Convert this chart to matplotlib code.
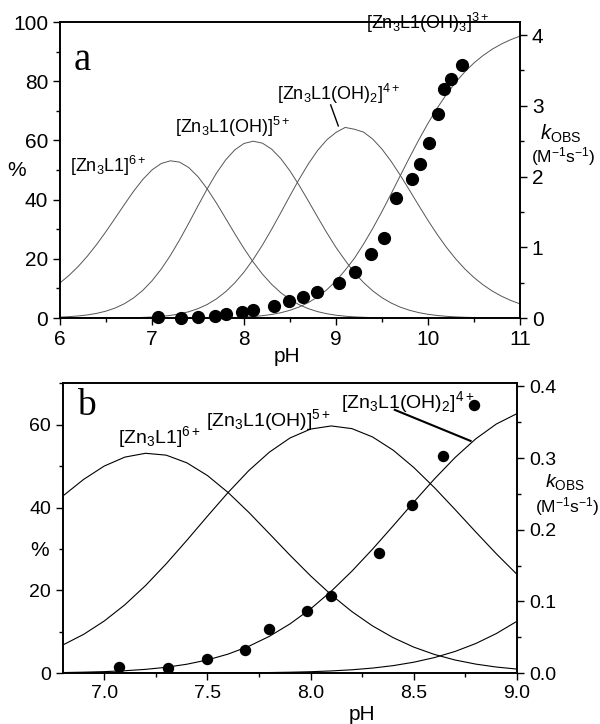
import matplotlib
matplotlib.use("Agg")
import matplotlib.pyplot as plt
import numpy as np
from matplotlib.ticker import MultipleLocator, FormatStrFormatter

plt.rcParams['font.family'] = ['Liberation Sans', 'DejaVu Sans']
plt.rcParams['mathtext.fontset'] = 'custom'
plt.rcParams['mathtext.rm'] = 'Liberation Sans'
plt.rcParams['mathtext.it'] = 'Liberation Sans:italic'
plt.rcParams['mathtext.bf'] = 'Liberation Sans:bold'

# species distribution, read every 0.1 pH unit from 6.0 to 11.0
ph_grid = np.linspace(6.0, 11.0, 51)

zn3l1 = [11.85, 14.45, 17.49, 20.98, 24.91, 29.21, 33.75, 38.36, 42.81, 46.80,
         50.03, 52.19, 53.11, 52.66, 50.81, 47.73, 43.63, 38.85, 33.68, 28.47,
         23.47, 18.89, 14.84, 11.38, 8.54, 6.25, 4.48, 3.14, 2.15, 1.44,
         0.95, 0.61, 0.38, 0.24, 0.14, 0.09, 0.05, 0.03, 0.02, 0.01,
         0.0, 0.0, 0.0, 0.0, 0.0, 0.0, 0.0, 0.0, 0.0, 0.0, 0.0]

zn3l1_oh = [0.30, 0.46, 0.70, 1.05, 1.57, 2.32, 3.37, 4.83, 6.79, 9.34,
            12.57, 16.50, 21.14, 26.39, 32.06, 37.91, 43.63, 48.91, 53.38, 56.81,
            58.97, 59.72, 59.07, 57.06, 53.86, 49.67, 44.80, 39.51, 34.10, 28.81,
            23.84, 19.44, 15.30, 11.97, 9.15, 6.86, 5.05, 3.65, 2.60, 1.82,
            1.25, 0.85, 0.57, 0.38, 0.25, 0.16, 0.11, 0.07, 0.04, 0.03, 0.02]

zn3l1_oh2 = [0.0, 0.0, 0.0, 0.01, 0.01, 0.02, 0.04, 0.06, 0.11, 0.20,
             0.33, 0.55, 0.88, 1.38, 2.12, 3.16, 4.57, 6.45, 8.86, 11.87,
             15.51, 19.78, 24.62, 29.94, 35.58, 41.32, 46.91, 52.09, 56.60, 60.19,
             62.70, 64.38, 63.77, 62.80, 60.42, 57.05, 52.89, 48.16, 43.11, 37.98,
             32.96, 28.23, 23.89, 20.00, 16.59, 13.66, 11.17, 9.08, 7.35, 5.93, 4.77]

zn3l1_oh3 = [0.0, 0.0, 0.0, 0.0, 0.0, 0.0, 0.0, 0.0, 0.0, 0.0,
             0.0, 0.0, 0.0, 0.01, 0.01, 0.02, 0.04, 0.06, 0.11, 0.19,
             0.31, 0.50, 0.78, 1.19, 1.78, 2.61, 3.73, 5.21, 7.12, 9.54,
             12.51, 16.17, 20.16, 25.00, 30.28, 36.00, 42.01, 48.16, 54.27, 60.19,
             65.78, 70.91, 75.54, 79.62, 83.16, 86.18, 88.72, 90.85, 92.60, 94.04, 95.23]

# measured rate constants
kobs_ph = [7.07, 7.31, 7.50, 7.68, 7.80, 7.98, 8.10, 8.33, 8.49, 8.64, 8.79,
           9.03, 9.21, 9.38, 9.525, 9.65, 9.83, 9.91, 10.01, 10.11, 10.17, 10.25, 10.37]
kobs = [0.008, 0.007, 0.019, 0.032, 0.061, 0.087, 0.107, 0.167, 0.234, 0.303, 0.374,
        0.49, 0.655, 0.909, 1.135, 1.69, 1.97, 2.17, 2.48, 2.89, 3.24, 3.38, 3.58]

species = [zn3l1, zn3l1_oh, zn3l1_oh2, zn3l1_oh3]

W, H = 600, 724
fig = plt.figure(figsize=(6, 7.24), dpi=100)


def px(x, y):
    return x / W, 1 - y / H


def style_axes(ax, size):
    for s in ax.spines.values():
        s.set_linewidth(1.2)
    ax.tick_params(which='both', direction='out', width=1.0, labelsize=size, top=False)
    ax.tick_params(which='major', length=5)
    ax.tick_params(which='minor', length=3)


# ---- panel a ----
axa = fig.add_axes([60 / W, 1 - 318 / H, 460 / W, 296 / H])
for s in species:
    axa.plot(ph_grid, s, color='#555555', lw=0.7)
axa.set_xlim(6, 11)
axa.set_ylim(0, 100)
axa.xaxis.set_major_locator(MultipleLocator(1))
axa.xaxis.set_minor_locator(MultipleLocator(0.5))
axa.yaxis.set_major_locator(MultipleLocator(20))
axa.yaxis.set_minor_locator(MultipleLocator(10))
style_axes(axa, 15)

axa2 = axa.twinx()
axa2.plot(kobs_ph, kobs, 'o', color='black', ms=8.5, clip_on=False)
axa2.set_ylim(0, 4.184)
axa2.yaxis.set_major_locator(MultipleLocator(1))
axa2.yaxis.set_minor_locator(MultipleLocator(0.5))
style_axes(axa2, 15)

axa.text(6.15, 87, 'a', family='Liberation Serif', fontsize=28, va='center')
axa.text(6.11, 49.4, r'[Zn$_3$L1]$^{6+}$', fontsize=13)
axa.text(7.25, 62.4, r'[Zn$_3$L1(OH)]$^{5+}$', fontsize=13)
axa.text(8.355, 73.6, r'[Zn$_3$L1(OH)$_2$]$^{4+}$', fontsize=13)
axa.text(9.33, 97.6, r'[Zn$_3$L1(OH)$_3$]$^{3+}$', fontsize=13)
axa.plot([8.942, 9.025], [72.0, 64.9], color='black', lw=1.0)

fig.text(*px(17, 171), '%', fontsize=15, ha='center', va='center')
fig.text(*px(287, 356), 'pH', fontsize=15, ha='center', va='center')
fig.text(*px(561, 134), r'$k_{\mathrm{OBS}}$', fontsize=14.5, ha='center', va='center')
fig.text(*px(563, 157), r'(M$^{-1}$s$^{-1}$)', fontsize=12.5, ha='center', va='center')

# ---- panel b ----
axb = fig.add_axes([63 / W, 1 - 673 / H, 454 / W, 290 / H])
for s in species:
    axb.plot(ph_grid, s, color='black', lw=0.8)
axb.set_xlim(6.8, 9.0)
axb.set_ylim(0, 70.1)
axb.xaxis.set_major_locator(MultipleLocator(0.5))
axb.xaxis.set_minor_locator(MultipleLocator(0.25))
axb.xaxis.set_major_formatter(FormatStrFormatter('%.1f'))
axb.yaxis.set_major_locator(MultipleLocator(20))
axb.yaxis.set_minor_locator(MultipleLocator(10))
style_axes(axb, 14)

axb2 = axb.twinx()
axb2.plot(kobs_ph, kobs, 'o', color='black', ms=7.2)
axb2.set_ylim(0, 0.4047)
axb2.yaxis.set_major_locator(MultipleLocator(0.1))
axb2.yaxis.set_minor_locator(MultipleLocator(0.05))
axb2.yaxis.set_major_formatter(FormatStrFormatter('%.1f'))
style_axes(axb2, 14)

axb.text(6.87, 64.5, 'b', family='Liberation Serif', fontsize=27, va='center')
axb.text(7.065, 55.6, r'[Zn$_3$L1]$^{6+}$', fontsize=14)
axb.text(7.494, 59.6, r'[Zn$_3$L1(OH)]$^{5+}$', fontsize=14)
axb.text(8.149, 64.0, r'[Zn$_3$L1(OH)$_2$]$^{4+}$', fontsize=14)
axb.plot([8.408, 8.775], [63.6, 56.1], color='black', lw=1.5)

fig.text(*px(40, 550), '%', fontsize=15, ha='center', va='center')
fig.text(*px(362, 715), 'pH', fontsize=15, ha='center', va='center')
fig.text(*px(565, 482), r'$k_{\mathrm{OBS}}$', fontsize=14, ha='center', va='center')
fig.text(*px(567, 507), r'(M$^{-1}$s$^{-1}$)', fontsize=12.5, ha='center', va='center')

fig.savefig('out.png', dpi=100)
